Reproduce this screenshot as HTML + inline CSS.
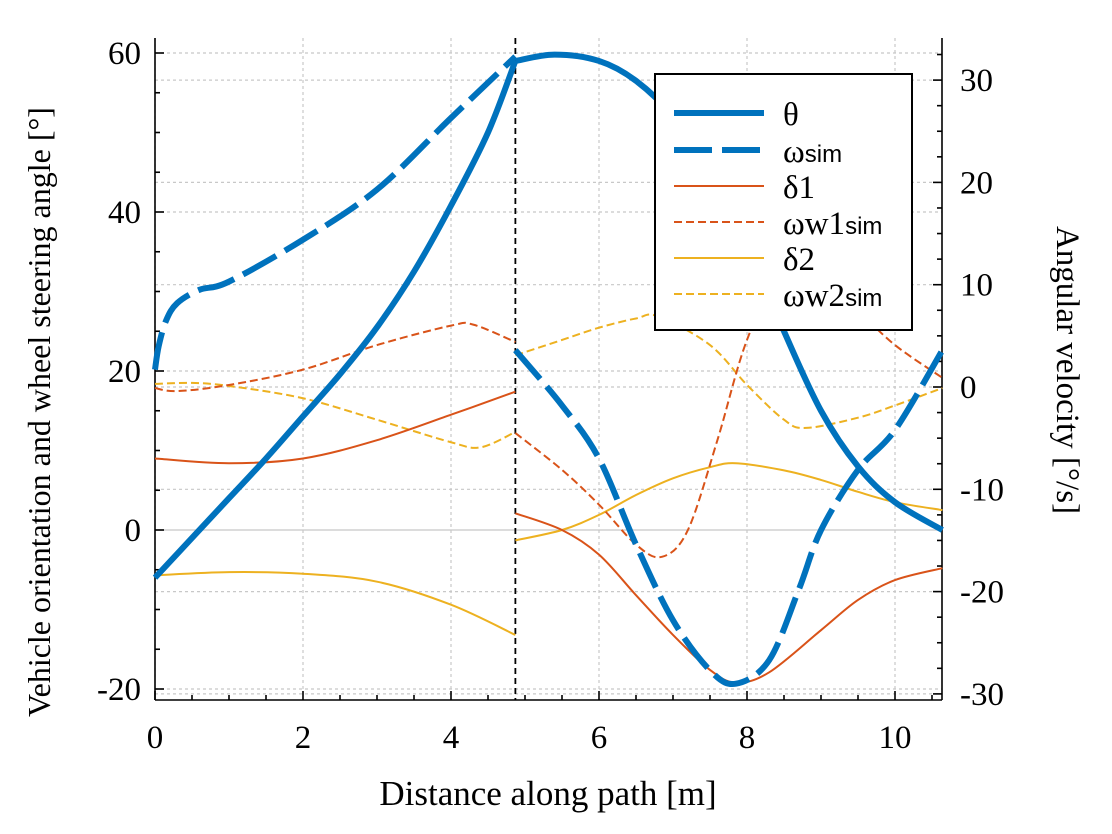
<!DOCTYPE html>
<html><head><meta charset="utf-8"><style>
html,body{margin:0;padding:0;background:#fff;}
svg{display:block;font-family:"Liberation Serif",serif;}
</style></head><body>
<svg id="c" width="1112" height="834" viewBox="0 0 1112 834"></svg>
<script>
const thetaX=[0,0.5,1,1.5,2,2.5,3,3.5,4,4.5,4.87];
const thetaY=[-6,-1,4,9,14.3,19.6,25.5,32.5,40.8,50,59];
const theta2X=[4.87,5.4,6,6.5,7,7.5,8,8.5,9,9.5,10,10.64];
const theta2Y=[59,59.8,59,56.5,52,45,36,25,15,8,3.5,0];
const omegaX=[0,0.05,0.15,0.3,0.6,1,2,3,4,4.87];
const omegaY=[1.7,4,6.5,8.2,9.5,10.3,14.4,19.3,26.3,32.3];
const omega2X=[4.87,5.5,6,6.5,7,7.5,7.85,8.3,8.7,9,9.5,10,10.64];
const omega2Y=[3.6,-1.8,-7,-15.4,-22.8,-27.7,-29,-26.7,-19.8,-14,-8.1,-4.2,3.6];
const d1X=[0,1,2,3,4,4.87];
const d1Y=[9,8.4,9,11.3,14.5,17.4];
const d1bX=[4.87,5.5,6,6.5,7,7.5,7.85,8.3,9,9.5,10,10.64];
const d1bY=[2.1,0,-3.1,-8.2,-13.2,-17.6,-19.2,-17.9,-12.6,-8.8,-6.3,-4.8];
const w1X=[0,0.3,1,2,3,4,4.3,4.87];
const w1Y=[-0.1,-0.4,0.2,1.7,4.1,6.0,6.1,4.4];
const w1bX=[4.87,5.5,6,6.5,6.85,7.2,7.6,8,8.5,9,9.5,10,10.64];
const w1bY=[-4.5,-8.1,-11.5,-15.4,-16.6,-14,-5.2,4.6,11.9,10.9,7.5,4.1,0.9];
const d2X=[0,1,2,3,4,4.87];
const d2Y=[-5.7,-5.3,-5.5,-6.5,-9.4,-13.2];
const d2bX=[4.87,5.5,6,6.5,7,7.5,7.85,8.5,9,9.5,10,10.64];
const d2bY=[-1.3,0,1.9,4.4,6.5,7.9,8.4,7.5,6.3,4.8,3.5,2.5];
const w2X=[0,0.5,1,2,3,4,4.4,4.87];
const w2Y=[0.3,0.4,0.1,-1.1,-3.2,-5.4,-5.9,-4.4];
const w2bX=[4.87,5.5,6,6.5,6.8,7.5,8,8.5,8.8,9.5,10,10.64];
const w2bY=[3.1,4.6,5.8,6.7,6.9,4.1,0.2,-3.2,-4.0,-3.0,-1.8,-0.1];
const xTicks=[0,2,4,6,8,10];
const yLTicks=[-20,0,20,40,60];
const yRTicks=[-30,-20,-10,0,10,20,30];
const switchX=4.87;

const NS="http://www.w3.org/2000/svg";
const svg=document.getElementById('c');
const X0=155,X1=942,YT=38,YB=700;
const sx=v=>155+v*74;
const syL=v=>530-v*7.95;
const syR=v=>387-v*10.23;
function el(t,a,p){const e=document.createElementNS(NS,t);for(const k in a)e.setAttribute(k,a[k]);(p||svg).appendChild(e);return e;}
function smooth(xs,ys,fy){
  const P=xs.map((x,i)=>[sx(x),fy(ys[i])]);
  let d=`M${P[0][0]},${P[0][1]}`;
  for(let i=0;i<P.length-1;i++){
    const p0=P[i-1]||P[i],p1=P[i],p2=P[i+1],p3=P[i+2]||P[i+1];
    const c1=[p1[0]+(p2[0]-p0[0])/6,p1[1]+(p2[1]-p0[1])/6];
    const c2=[p2[0]-(p3[0]-p1[0])/6,p2[1]-(p3[1]-p1[1])/6];
    d+=`C${c1[0]},${c1[1]} ${c2[0]},${c2[1]} ${p2[0]},${p2[1]}`;
  }
  return d;
}
const grid=el('g',{});


xTicks.forEach(t=>{el('line',{x1:sx(t),x2:sx(t),y1:YT,y2:YB,stroke:'#c8c8c8','stroke-width':1.2,'stroke-dasharray':'3,3'},grid);});
yLTicks.forEach(t=>{el('line',{x1:X0,x2:X1,y1:syL(t),y2:syL(t),stroke:'#c8c8c8','stroke-width':1.2,'stroke-dasharray':t===0?'none':'3,3'},grid);});
yRTicks.forEach(t=>{el('line',{x1:X0,x2:X1,y1:syR(t),y2:syR(t),stroke:'#c8c8c8','stroke-width':1.2,'stroke-dasharray':'3,3'},grid);});
const ax=el('g',{stroke:'#000','stroke-width':1.6,fill:'none'});


el('line',{x1:X0,x2:X0,y1:YT,y2:YB},ax);
el('line',{x1:X1,x2:X1,y1:YT,y2:YB},ax);
el('line',{x1:X0,x2:X1,y1:YB,y2:YB},ax);
for(let v=0;v<=10.6;v+=0.5){const M=Math.abs(v%2)<1e-6;el('line',{x1:sx(v),x2:sx(v),y1:YB,y2:YB-(M?9:5)},ax);}
for(let v=-20;v<=60;v+=5){const M=v%20===0;el('line',{x1:X0,x2:X0+(M?9:5),y1:syL(v),y2:syL(v)},ax);}
for(let v=-30;v<=32.5;v+=2.5){const M=v%10===0;el('line',{x1:X1,x2:X1-(M?9:5),y1:syR(v),y2:syR(v)},ax);}
const lab=el('g',{'font-size':33,fill:'#000'});


xTicks.forEach(t=>{el('text',{x:sx(t),y:748,'text-anchor':'middle'},lab).textContent=t;});
yLTicks.forEach(t=>{el('text',{x:141,y:syL(t)+11,'text-anchor':'end'},lab).textContent=t;});
yRTicks.forEach(t=>{el('text',{x:960,y:syR(t)+11,'text-anchor':'start'},lab).textContent=t;});
let t=el('text',{x:548,y:805,'text-anchor':'middle','font-size':35});t.textContent='Distance along path [m]';

t=el('text',{x:0,y:0,'text-anchor':'middle','font-size':32,transform:'translate(50,412) rotate(-90)'});t.textContent='Vehicle orientation and wheel steering angle [°]';

t=el('text',{x:0,y:0,'text-anchor':'middle','font-size':33,transform:'translate(1057,370) rotate(90)'});t.textContent='Angular velocity [°/s]';

const sl=el('line',{x1:sx(switchX),x2:sx(switchX),y1:YT,y2:YB,stroke:'#000','stroke-width':1.8,'stroke-dasharray':'6,4'});

const BLUE='#0072bd',OR='#d95319',YE='#edb120';
function series(name,xs,ys,fy,col,w,dash){const p=el('path',{d:smooth(xs,ys,fy),fill:'none',stroke:col,'stroke-width':w,'stroke-dasharray':dash||'none'});}
series('delta2-line-a',d2X,d2Y,syL,YE,2);
series('delta2-line-b',d2bX,d2bY,syL,YE,2);
series('omega-w2-line-a',w2X,w2Y,syR,YE,2,'8,4');
series('omega-w2-line-b',w2bX,w2bY,syR,YE,2,'8,4');
series('delta1-line-a',d1X,d1Y,syL,OR,2);
series('delta1-line-b',d1bX,d1bY,syL,OR,2);
series('omega-w1-line-a',w1X,w1Y,syR,OR,2,'8,4');
series('omega-w1-line-b',w1bX,w1bY,syR,OR,2,'8,4');
series('theta-line-a',thetaX,thetaY,syL,BLUE,6);
series('theta-line-b',theta2X,theta2Y,syL,BLUE,6);
series('omega-sim-line-a',omegaX,omegaY,syR,BLUE,6,'38,10');
series('omega-sim-line-b',omega2X,omega2Y,syR,BLUE,6,'38,10');
const lg=el('g',{});

el('rect',{x:655,y:74,width:257,height:256,fill:'#fff',stroke:'#000','stroke-width':2},lg);
const L=[['θ','',BLUE,6,'none'],['ω','sim',BLUE,6,'38,10'],['δ1','',OR,2,'none'],['ωw1','sim',OR,2,'8,4'],['δ2','',YE,2,'none'],['ωw2','sim',YE,2,'8,4']];
const rows=[113,150,186,222,258,294];
L.forEach((e,i)=>{
  const g=el('g',{},lg);
  
  el('line',{x1:674,x2:764,y1:rows[i],y2:rows[i],stroke:e[2],'stroke-width':e[3],'stroke-dasharray':e[4]},g);
  const tx=el('text',{x:783,y:rows[i]+12,'font-size':33},g);
  tx.textContent=e[0];
  if(e[1]){const s=el('tspan',{'font-family':'Liberation Sans, sans-serif','font-size':24},tx);s.textContent=e[1];}
});
</script>
</body></html>
